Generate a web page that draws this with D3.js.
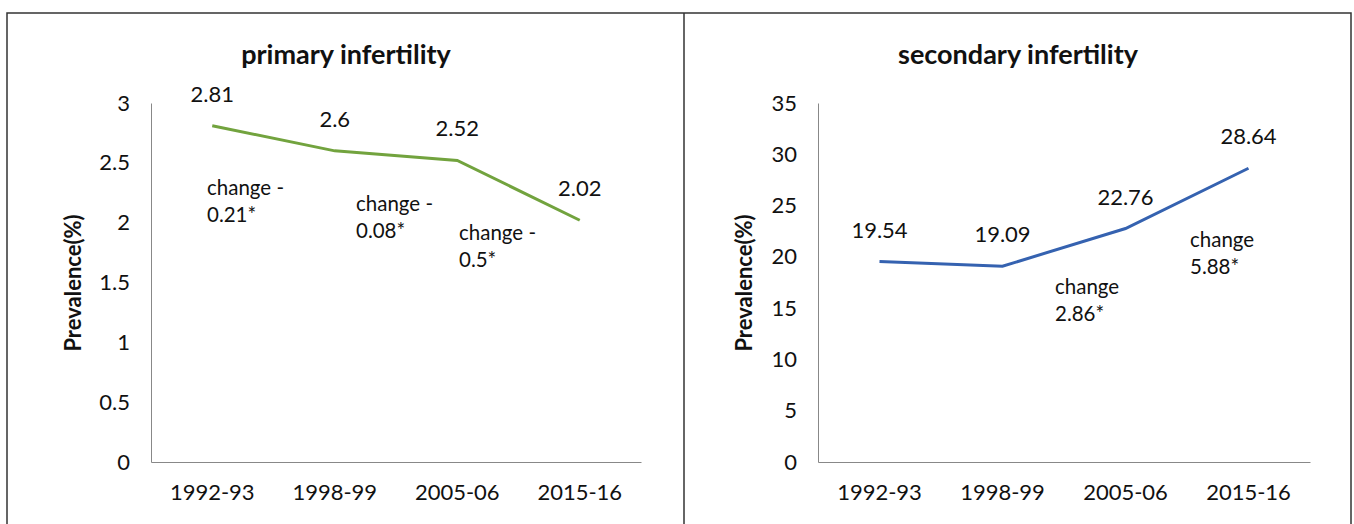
<!DOCTYPE html>
<html><head><meta charset="utf-8">
<script src="https://cdn.jsdelivr.net/npm/d3@7"></script>
<style>body{margin:0;background:#fff}svg{display:block}text{font-family:Lato,"Open Sans",sans-serif;fill:#111}</style>
</head><body>
<svg id="c" width="1354" height="524"></svg>
<script>
const categories = ["1992-93","1998-99","2005-06","2015-16"];
const primaryValues = [2.81, 2.6, 2.52, 2.02];
const secondaryValues = [19.54, 19.09, 22.76, 28.64];
const primaryTicks = [0,0.5,1,1.5,2,2.5,3];
const secondaryTicks = [0,5,10,15,20,25,30,35];
const primaryNotes = [["change -","0.21*"],["change -","0.08*"],["change -","0.5*"]];
const secondaryNotes = [["change","2.86*"],["change","5.88*"]];

const svg = d3.select("#c");
// frame
svg.append("rect").attr("x",7).attr("y",13).attr("width",1344).attr("height",530)
  .attr("fill","none").attr("stroke","#333").attr("stroke-width",1.5);
svg.append("line").attr("x1",684).attr("x2",684).attr("y1",13).attr("y2",524)
  .attr("stroke","#333").attr("stroke-width",1.5);

function panel(opt){
  const g = svg.append("g");
  const x = d3.scaleBand().domain(categories).range([opt.x0,opt.x1]);
  const y = d3.scaleLinear().domain([0,opt.max]).range([462,103]);
  const cx = d => x(d)+x.bandwidth()/2;
  // axes
  const ya = g.append("g").attr("transform",`translate(${opt.x0},0)`)
    .call(d3.axisLeft(y).tickValues(opt.ticks).tickSize(0).tickPadding(21).tickFormat(d3.format("")));
  ya.select(".domain").attr("stroke","#888").attr("stroke-width",1);
  ya.selectAll("text").attr("font-size",22).attr("font-family","Lato").attr("fill","#111");
  const xa = g.append("g").attr("transform","translate(0,462)")
    .call(d3.axisBottom(x).tickSize(0).tickPadding(22));
  xa.select(".domain").attr("stroke","#888").attr("stroke-width",1);
  xa.selectAll("text").attr("font-size",22).attr("font-family","Lato").attr("fill","#111");
  // title
  g.append("text").attr("x",opt.tx).attr("y",64).attr("text-anchor","middle")
    .attr("font-size",27).attr("font-weight","bold").text(opt.title);
  g.append("text").attr("transform",`translate(${opt.yt},283) rotate(-90)`)
    .attr("text-anchor","middle").attr("font-size",22).attr("font-weight","bold").text("Prevalence(%)");
  // line
  const line = d3.line().x((d,i)=>cx(categories[i])).y(d=>y(d));
  g.append("path").datum(opt.values).attr("d",line).attr("fill","none")
    .attr("stroke",opt.color).attr("stroke-width",3);
  // labels
  g.selectAll(".lbl").data(opt.values).join("text")
    .attr("x",(d,i)=>cx(categories[i])).attr("y",d=>y(d)-24)
    .attr("text-anchor","middle").attr("font-size",22).text(d=>d);
  // notes
  opt.notes.forEach((n,i)=>{
    const p = opt.notePos[i];
    n.forEach((t,j)=>{
      g.append("text").attr("x",p[0]).attr("y",p[1]+j*27).attr("font-size",20.5).text(t);
    });
  });
}
panel({x0:151,x1:641,max:3,ticks:primaryTicks,values:primaryValues,color:"#72a33e",
  title:"primary infertility",tx:346,yt:81,notes:primaryNotes,
  notePos:[[207,195],[356,211],[459,240]]});
panel({x0:818,x1:1310,max:35,ticks:secondaryTicks,values:secondaryValues,color:"#3562b0",
  title:"secondary infertility",tx:1018,yt:752,notes:secondaryNotes,
  notePos:[[1055,294],[1190,247]]});
</script>
</body></html>
